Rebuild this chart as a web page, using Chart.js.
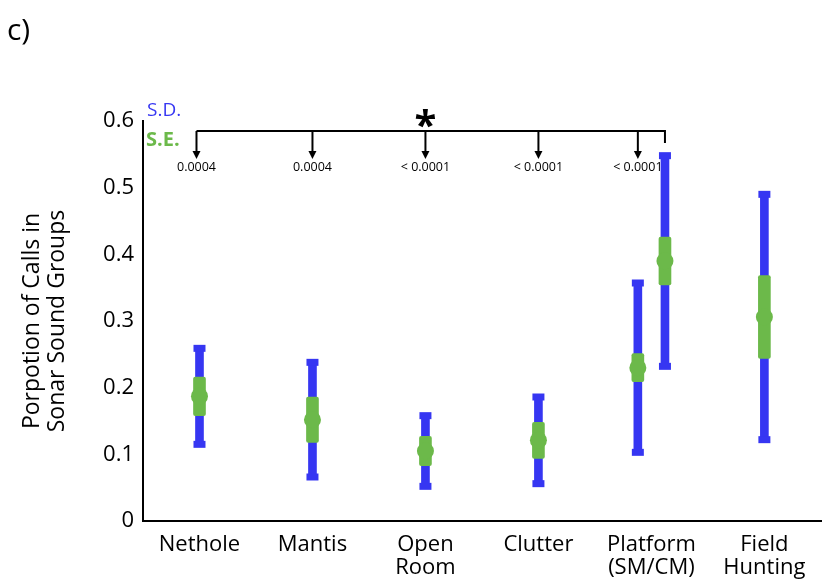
<!DOCTYPE html>
<html>
<head>
<meta charset="utf-8">
<script src="https://cdn.jsdelivr.net/npm/chart.js@4/dist/chart.umd.min.js"></script>
<style>
  html, body { margin: 0; padding: 0; background: #fff; }
  #wrap { width: 822px; height: 588px; }
</style>
</head>
<body>
<div id="wrap"><canvas id="myChart" width="822" height="588"></canvas></div>
<script>
// categories on the x axis (multi-line labels)
const tickLabels = [['Nethole'], ['Mantis'], ['Open', 'Room'], ['Clutter'], ['Platform', '(SM/CM)'], ['Field', 'Hunting']]
const yTicks = [0, 0.1, 0.2, 0.3, 0.4, 0.5, 0.6]

// one entry per error bar (Platform has SM and CM)
const groupCat = [0, 1, 2, 3, 4, 4, 5]
const means = [0.187, 0.152, 0.105, 0.121, 0.230, 0.390, 0.306]
const sd = [0.072, 0.086, 0.053, 0.065, 0.127, 0.158, 0.184]
const se = [0.029, 0.034, 0.022, 0.027, 0.021, 0.036, 0.062]

// p-values of comparison against Platform CM (groups 0..4)
const pValues = ['0.0004', '0.0004', '< 0.0001', '< 0.0001', '< 0.0001']

const BLUE = '#3636f2'
const GREEN = '#6cb94a'
const FONT = "'Open Sans', sans-serif"

// x value of each group: category index, Platform pair split a little
function groupX(i) {
  let x = groupCat[i] + 1
  let same = groupCat.filter(c => c == groupCat[i]).length
  if (same > 1) x += (groupCat.indexOf(groupCat[i]) == i ? -0.12 : 0.12)
  return x
}

let sdData = [], seData = [], meanData = [], capData = []
for (let i in means) {
  let x = groupX(+i)
  sdData.push({x: x, y: [means[i] - sd[i], means[i] + sd[i]]})
  seData.push({x: x, y: [means[i] - se[i], means[i] + se[i]]})
  meanData.push({x: x, y: means[i]})
  capData.push({x: x, y: means[i] - sd[i]})
  capData.push({x: x, y: means[i] + sd[i]})
}

// bracket, arrows, p-values, labels
const annotations = {
  id: 'annotations',
  afterDraw(chart) {
    let ctx = chart.ctx
    let xs = chart.scales.x
    ctx.save()
    ctx.fillStyle = '#000'
    ctx.strokeStyle = '#000'

    ctx.font = '30px ' + FONT
    ctx.textAlign = 'left'
    ctx.textBaseline = 'middle'
    ctx.fillText('c)', 7, 31)

    ctx.font = '19px ' + FONT
    ctx.fillStyle = BLUE
    ctx.fillText('S.D.', 147, 111)
    ctx.font = 'bold 20px ' + FONT
    ctx.fillStyle = GREEN
    ctx.fillText('S.E.', 146, 140)

    let lineY = 131
    let tipY = 159
    let endX = xs.getPixelForValue(groupX(5))
    let startX = xs.getPixelForValue(groupX(0)) - 3
    ctx.lineWidth = 2
    ctx.beginPath()
    ctx.moveTo(startX, lineY)
    ctx.lineTo(endX, lineY)
    ctx.lineTo(endX, 143)
    ctx.stroke()

    ctx.fillStyle = '#000'
    ctx.font = '12.5px ' + FONT
    ctx.textAlign = 'center'
    for (let i = 0; i < pValues.length; i++) {
      let px = i == 0 ? startX : xs.getPixelForValue(groupX(i))
      ctx.beginPath()
      ctx.moveTo(px, lineY)
      ctx.lineTo(px, tipY - 6)
      ctx.stroke()
      ctx.beginPath()
      ctx.moveTo(px - 4, tipY - 8)
      ctx.lineTo(px + 4, tipY - 8)
      ctx.lineTo(px, tipY)
      ctx.closePath()
      ctx.fill()
      ctx.fillText(pValues[i], px, 167)
    }

    ctx.font = 'bold 40px ' + FONT
    ctx.textBaseline = 'alphabetic'
    ctx.fillText('*', xs.getPixelForValue(groupX(2)), 139)
    ctx.restore()
  }
}

let canvas = document.getElementById('myChart')
let ctx = canvas.getContext('2d')

new Chart(ctx, {
  type: 'bar',
  data: {
    datasets: [
      {type: 'scatter', data: meanData, order: 1, pointStyle: 'circle', pointRadius: 8.5,
        backgroundColor: GREEN, borderWidth: 0},
      {type: 'bar', data: seData, order: 2, backgroundColor: GREEN, barThickness: 12,
        borderRadius: 2, borderSkipped: false, grouped: false},
      {type: 'scatter', data: capData, order: 3, pointStyle: 'line', pointRadius: 6,
        borderColor: BLUE, borderWidth: 7},
      {type: 'bar', data: sdData, order: 4, backgroundColor: BLUE, barThickness: 8, grouped: false}
    ]
  },
  options: {
    responsive: false,
    animation: false,
    events: [],
    layout: {autoPadding: false, padding: {top: 121, left: 0, right: 0, bottom: 0}},
    plugins: {legend: {display: false}, tooltip: {enabled: false}},
    scales: {
      x: {
        type: 'linear', min: 0.5, max: 6.51, offset: false,
        grid: {display: false, drawTicks: false},
        border: {display: true, color: '#000', width: 2},
        afterBuildTicks: scale => { scale.ticks = tickLabels.map((t, i) => ({value: i + 1})) },
        afterFit: scale => { scale.height = 67; scale.paddingLeft = 0; scale.paddingRight = 0 },
        ticks: {
          color: '#000', padding: 12, maxRotation: 0, autoSkip: false,
          font: {family: FONT, size: 22, lineHeight: 1.05},
          callback: (value, index) => tickLabels[index]
        }
      },
      y: {
        min: 0, max: 0.6,
        grid: {display: false, drawTicks: false},
        border: {display: true, color: '#000', width: 2},
        afterBuildTicks: scale => { scale.ticks = yTicks.map(v => ({value: v})) },
        afterFit: scale => { scale.width = 143 },
        ticks: {
          color: '#000', padding: 9,
          font: {family: FONT, size: 22},
          callback: value => value == 0 ? '0' : value.toFixed(1)
        },
        title: {
          display: true, color: '#000',
          text: ['Porpotion of Calls in', 'Sonar Sound Groups'],
          font: {family: FONT, size: 23, lineHeight: 1.1},
          padding: {top: 20, bottom: 0}
        }
      }
    }
  },
  plugins: [annotations]
})
</script>
</body>
</html>
